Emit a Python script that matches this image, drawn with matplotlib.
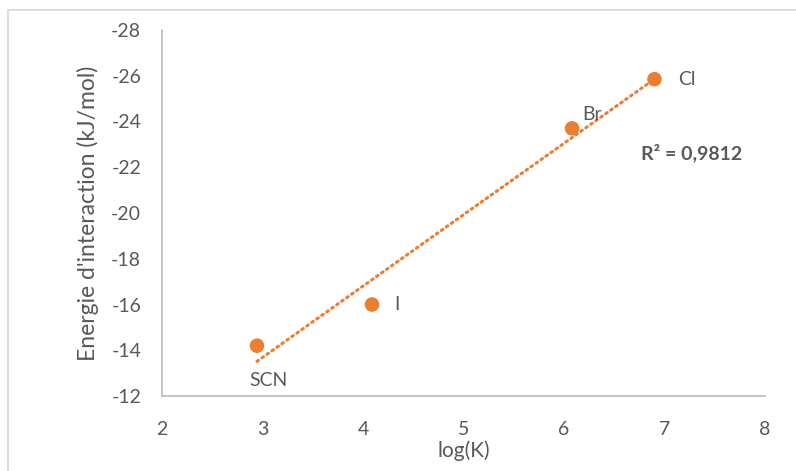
import matplotlib
matplotlib.use("Agg")
import matplotlib.pyplot as plt
import numpy as np
from matplotlib.lines import Line2D

# Data
labels = ["SCN", "I", "Br", "Cl"]
logK = [2.945, 4.09, 6.08, 6.9]
energy = [-14.2, -16.0, -23.7, -25.85]
xticks = [2, 3, 4, 5, 6, 7, 8]
yticks = [-12, -14, -16, -18, -20, -22, -24, -26, -28]
r2_text = "R² = 0,9812"

plt.rcParams['font.family'] = ['Lato', 'DejaVu Sans']
plt.rcParams['axes.unicode_minus'] = False
orange = "#ED7D31"
gray_txt = "#595959"

fig = plt.figure(figsize=(7.96, 4.71), dpi=100)
ax = fig.add_axes([162/796, 1 - 396/471, (765-162)/796, (396-30)/471])

ax.scatter(logK, energy, s=110, color=orange, zorder=3, edgecolors='none')

# linear trendline
coef = np.polyfit(logK, energy, 1)
xs = np.array([min(logK), max(logK)])
ax.plot(xs, np.polyval(coef, xs), color=orange, lw=2.2, linestyle=(0, (0.6, 1.4)),
        dash_capstyle='round', zorder=2)

ax.set_xlim(2, 8)
ax.set_ylim(-12, -28)
ax.set_xticks(xticks)
ax.set_yticks(yticks)
ax.tick_params(length=0, labelsize=14, colors=gray_txt)
ax.tick_params(axis='x', pad=18)
ax.tick_params(axis='y', pad=15)
for s in ['top', 'right']:
    ax.spines[s].set_visible(False)
for s in ['left', 'bottom']:
    ax.spines[s].set_color('#BFBFBF')
    ax.spines[s].set_linewidth(1.3)

ax.set_xlabel("log(K)", fontsize=15, color=gray_txt, labelpad=2)
ax.set_ylabel("Energie d'interaction (kJ/mol)", fontsize=16.5, color=gray_txt, labelpad=9)

# point labels
offs = {"SCN": (8, -19, 'center', 'top'), "I": (16, 0, 'left', 'center'),
        "Br": (7, 10, 'left', 'center'), "Cl": (17, 0, 'left', 'center')}
for lab, x, y in zip(labels, logK, energy):
    dx, dy, ha, va = offs[lab]
    ax.annotate(lab, (x, y), xytext=(dx, dy), textcoords='offset points',
                ha=ha, va=va, fontsize=14, color=gray_txt)

ax.text(0.795, 0.665, r2_text, transform=ax.transAxes, fontsize=14,
        fontweight='bold', color=gray_txt, ha='left', va='center')

# figure border
fig.add_artist(Line2D([8/796, 8/796], [0, 1 - 10/471], color='#D9D9D9', lw=1.3,
                      transform=fig.transFigure))
fig.add_artist(Line2D([8/796, 1], [1 - 10/471, 1 - 10/471], color='#D9D9D9', lw=1.3,
                      transform=fig.transFigure))

fig.savefig("out.png", dpi=100)
